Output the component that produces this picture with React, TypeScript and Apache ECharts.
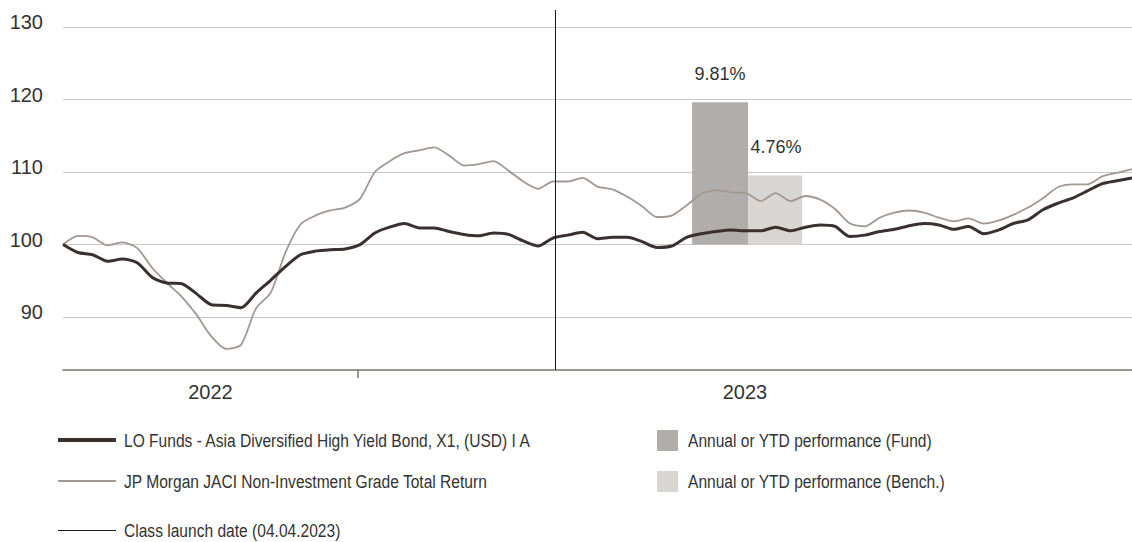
import React, { useEffect, useRef } from "react";
import * as echarts from "echarts";

// ---- data ----
const dates = [
  "2022-08-15", "2022-08-22", "2022-08-29", "2022-09-05", "2022-09-12", "2022-09-19", "2022-09-26",
  "2022-10-03", "2022-10-10", "2022-10-17", "2022-10-24", "2022-10-31", "2022-11-07", "2022-11-14",
  "2022-11-21", "2022-11-28", "2022-12-05", "2022-12-12", "2022-12-19", "2022-12-26", "2023-01-02",
  "2023-01-09", "2023-01-16", "2023-01-23", "2023-01-30", "2023-02-06", "2023-02-13", "2023-02-20",
  "2023-02-27", "2023-03-06", "2023-03-13", "2023-03-20", "2023-03-27", "2023-04-03", "2023-04-10",
  "2023-04-17", "2023-04-24", "2023-05-01", "2023-05-08", "2023-05-15", "2023-05-22", "2023-05-29",
  "2023-06-05", "2023-06-12", "2023-06-19", "2023-06-26", "2023-07-03", "2023-07-10", "2023-07-17",
  "2023-07-24", "2023-07-31", "2023-08-07", "2023-08-14", "2023-08-21", "2023-08-28", "2023-09-04",
  "2023-09-11", "2023-09-18", "2023-09-25", "2023-10-02", "2023-10-09", "2023-10-16", "2023-10-23",
  "2023-10-30", "2023-11-06", "2023-11-13", "2023-11-20", "2023-11-27", "2023-12-04", "2023-12-11",
  "2023-12-18", "2023-12-25", "2024-01-01",
];

const fundValues = [
  100.0, 98.9, 98.6, 97.7, 98.0, 97.5, 95.5,
  94.7, 94.6, 93.2, 91.7, 91.6, 91.3, 93.3,
  95.1, 97.0, 98.6, 99.1, 99.3, 99.4, 100.0,
  101.6, 102.4, 102.9, 102.3, 102.3, 101.8, 101.4,
  101.2, 101.6, 101.4, 100.5, 99.8, 100.9, 101.3,
  101.7, 100.8, 101.0, 101.0, 100.4, 99.6, 99.8,
  101.0, 101.5, 101.8, 102.0, 101.9, 101.9, 102.4,
  101.9, 102.4, 102.7, 102.5, 101.1, 101.3, 101.8,
  102.1, 102.6, 102.9, 102.7, 102.1, 102.5, 101.5,
  102.0, 102.9, 103.4, 104.8, 105.7, 106.4, 107.4,
  108.4, 108.8, 109.2,
];

const benchValues = [
  100.0, 101.2, 101.0, 99.9, 100.3, 99.5, 96.8,
  94.7, 92.8, 90.3, 87.3, 85.6, 86.2, 91.2,
  93.4, 99.0, 102.8, 104.0, 104.7, 105.1, 106.3,
  110.0, 111.5, 112.6, 113.0, 113.4, 112.3, 110.9,
  111.1, 111.5, 110.2, 108.7, 107.7, 108.7, 108.7,
  109.2, 108.0, 107.6, 106.6, 105.3, 103.8, 104.0,
  105.4, 107.0, 107.5, 107.2, 107.1, 106.0, 107.1,
  106.0, 106.7, 106.2, 104.9, 102.9, 102.5, 103.7,
  104.4, 104.7, 104.4, 103.7, 103.2, 103.6, 102.9,
  103.3, 104.1, 105.1, 106.4, 107.9, 108.3, 108.3,
  109.4, 109.9, 110.4,
];

const fundName = "LO Funds - Asia Diversified High Yield Bond, X1, (USD) I A";
const benchName = "JP Morgan JACI Non-Investment Grade Total Return";
const perfFundName = "Annual or YTD performance (Fund)";
const perfBenchName = "Annual or YTD performance (Bench.)";
const launchName = "Class launch date (04.04.2023)";

const perfDates = ["2023-07-04"];
const perfFund = [9.81];
const perfBench = [4.76];

const launchDate = "2023-04-04";
const yearBoundaries = ["2022-08-15", "2023-01-01", "2024-01-01"];
const yTicks = [90, 100, 110, 120, 130];

// ---- style ----
const FONT = "'Liberation Sans', Arial, sans-serif";
const fundColor = "#3a302e";
const benchColor = "#a29891";
const fundBarColor = "#b1adab";
const benchBarColor = "#d9d5d2";
const textColor = "#333333";
const axisColor = "#76766a";

const Y_MIN = 82.7;
const Y_MAX = 132.35;
const BAR_SCALE = 2; // bars on a secondary axis: 1% = 2 index points, based at 100
const BAR_W = 56;

export default function App() {
  const ref = useRef<HTMLDivElement>(null);

  useEffect(() => {
    if (!ref.current) return;
    const chart = echarts.init(ref.current, null, { renderer: "svg" });
    const parse = (s: string) => echarts.time.parse(s).getTime();
    const t0 = parse(yearBoundaries[0]);
    const t1 = parse(yearBoundaries[1]);
    const t2 = parse(yearBoundaries[2]);
    const yearMid = [(t0 + t1) / 2, (t1 + t2) / 2];
    const barData = perfDates.map((d, i) => [parse(d), perfFund[i], perfBench[i]]);

    const fundData = dates.map((d, i) => [d, fundValues[i]]);
    const benchData = dates.map((d, i) => [d, benchValues[i]]);

    const legendX = 58;
    const legendTextX = 124;
    const rightX = 657;
    const rightTextX = 688;
    const rows = [440, 481, 530];

    const legendText = (text: string, x: number, y: number) => ({
      type: "text",
      x,
      y,
      scaleX: 0.82,
      style: { text, fill: textColor, fontSize: 19, fontFamily: FONT, align: "left", verticalAlign: "middle" },
    });

    const renderBars = (params: any, api: any) => {
      const x = api.value(0);
      const f = api.value(1);
      const b = api.value(2);
      const base = api.coord([x, 0]);
      const pf = api.coord([x, f]);
      const pb = api.coord([x, b]);
      const label = (text: string, cx: number, cy: number) => ({
        type: "text",
        style: {
          text,
          x: cx,
          y: cy,
          fill: textColor,
          fontSize: 18,
          fontFamily: FONT,
          align: "center",
          verticalAlign: "bottom",
        },
      });
      return {
        type: "group",
        children: [
          {
            type: "rect",
            shape: { x: base[0] - BAR_W, y: pf[1], width: BAR_W, height: base[1] - pf[1] },
            style: { fill: fundBarColor },
          },
          {
            type: "rect",
            shape: { x: base[0], y: pb[1], width: BAR_W - 2, height: base[1] - pb[1] },
            style: { fill: benchBarColor },
          },
          label(`${f.toFixed(2)}%`, base[0] - BAR_W / 2, pf[1] - 19),
          label(`${b.toFixed(2)}%`, base[0] + BAR_W / 2, pb[1] - 20),
        ],
      };
    };

    const option: any = {
      animation: false,
      grid: {
        left: 63,
        right: 0,
        top: 10,
        bottom: 172,
        containLabel: false,
        outerBoundsMode: "none",
      },
      xAxis: [
        {
          type: "time",
          min: t0,
          max: t2,
          show: false,
          splitLine: { show: false },
        },
        {
          type: "value",
          min: t0,
          max: t2,
          position: "bottom",
          axisLine: { show: true, lineStyle: { color: axisColor, width: 1.5 } },
          axisTick: {
            show: true,
            customValues: [t1],
            length: 8,
            lineStyle: { color: axisColor, width: 1.5 },
          },
          axisLabel: {
            customValues: yearMid,
            formatter: (v: number) => String(new Date(v).getFullYear()),
            color: textColor,
            fontFamily: FONT,
            fontSize: 20,
            margin: 12,
          },
          splitLine: { show: false },
        },
      ],
      yAxis: [
        {
          type: "value",
          min: Y_MIN,
          max: Y_MAX,
          axisLine: { show: false },
          axisTick: { show: false, customValues: yTicks },
          axisLabel: {
            customValues: yTicks,
            color: textColor,
            fontFamily: FONT,
            fontSize: 20,
            margin: 20,
            verticalAlign: "bottom",
            lineHeight: 10,
          },
          splitLine: { show: true, lineStyle: { color: "#c8c8c8", width: 1 } },
        },
        {
          type: "value",
          show: false,
          min: (Y_MIN - 100) / BAR_SCALE,
          max: (Y_MAX - 100) / BAR_SCALE,
          splitLine: { show: false },
        },
      ],
      series: [
        {
          name: "Annual or YTD performance",
          type: "custom",
          xAxisIndex: 0,
          yAxisIndex: 1,
          z: 1,
          silent: true,
          renderItem: renderBars,
          encode: { x: 0, y: [1, 2] },
          data: barData,
        },
        {
          name: benchName,
          type: "line",
          xAxisIndex: 0,
          z: 3,
          symbol: "none",
          smooth: 0.25,
          lineStyle: { color: benchColor, width: 1.8 },
          emphasis: { disabled: true },
          data: benchData,
        },
        {
          name: fundName,
          type: "line",
          xAxisIndex: 0,
          z: 4,
          symbol: "none",
          smooth: 0.25,
          lineStyle: { color: fundColor, width: 3 },
          emphasis: { disabled: true },
          data: fundData,
          markLine: {
            silent: true,
            symbol: ["none", "none"],
            label: { show: false },
            lineStyle: { color: "#1a1a1a", width: 1, type: "solid" },
            data: [{ xAxis: parse(launchDate) }],
          },
        },
      ],
      graphic: [
        {
          type: "line",
          shape: { x1: legendX, y1: rows[0], x2: legendX + 58, y2: rows[0] },
          style: { stroke: fundColor, lineWidth: 4 },
        },
        legendText(fundName, legendTextX, rows[0]),
        {
          type: "line",
          shape: { x1: legendX, y1: rows[1], x2: legendX + 58, y2: rows[1] },
          style: { stroke: benchColor, lineWidth: 2 },
        },
        legendText(benchName, legendTextX, rows[1]),
        {
          type: "line",
          shape: { x1: legendX, y1: rows[2] + 0.5, x2: legendX + 58, y2: rows[2] + 0.5 },
          style: { stroke: "#1a1a1a", lineWidth: 1 },
        },
        legendText(launchName, legendTextX, rows[2]),
        {
          type: "rect",
          shape: { x: rightX, y: rows[0] - 10, width: 21, height: 21 },
          style: { fill: fundBarColor },
        },
        legendText(perfFundName, rightTextX, rows[0]),
        {
          type: "rect",
          shape: { x: rightX, y: rows[1] - 10, width: 21, height: 21 },
          style: { fill: benchBarColor },
        },
        legendText(perfBenchName, rightTextX, rows[1]),
      ],
    };

    chart.setOption(option);
    return () => chart.dispose();
  }, []);

  return (
    <div
      ref={ref}
      style={{ position: "fixed", left: 0, top: 0, width: 1132, height: 542, background: "#ffffff" }}
    />
  );
}
